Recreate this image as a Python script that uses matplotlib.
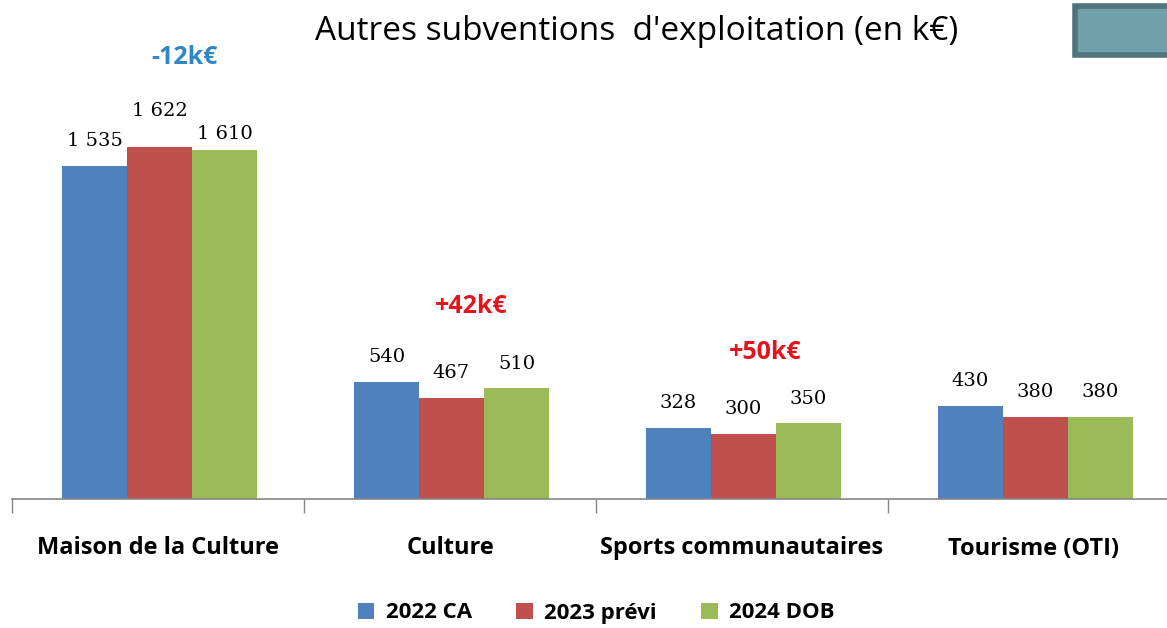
import numpy as np
import matplotlib.pyplot as plt
from matplotlib.patches import Rectangle, Patch

# data
categories = ["Maison de la Culture", "Culture", "Sports communautaires", "Tourisme (OTI)"]
series = ["2022 CA", "2023 prévi", "2024 DOB"]
ca_2022 = [1535, 540, 328, 430]
previ_2023 = [1622, 467, 300, 380]
dob_2024 = [1610, 510, 350, 380]
deltas = ["-12k€", "+42k€", "+50k€"]

# style
colors = ["#4F81BD", "#C0504D", "#9BBB59"]
delta_colors = ["#2F87C6", "#E3141B", "#E3141B"]
delta_pos = [(0.592, 2035), (1.572, 885), (2.579, 677)]
sans = ["Open Sans", "DejaVu Sans"]
serif = ["DejaVu Serif"]

fig = plt.figure(figsize=(11.67, 6.28), dpi=100)
ax = fig.add_axes([12 / 1167, 129 / 628, 1168 / 1167, 434 / 628])

w = 0.2226
x = np.arange(len(categories)) + 0.505
values = [ca_2022, previ_2023, dob_2024]
# label gap above bar (points), per series / category
nudge = [[14, 14, 14, 14],
         [22, 14, 14, 14],
         [8, 14, 14, 14]]
for j, vals in enumerate(values):
    xs = x + (j - 1) * w
    ax.bar(xs, vals, width=w, color=colors[j], edgecolor="none", zorder=2)
    for i, (xi, v) in enumerate(zip(xs, vals)):
        txt = f"{v:,}".replace(",", " ")
        ax.annotate(txt, (xi, v), xytext=(0, nudge[j][i]), textcoords="offset points",
                    ha="center", va="baseline", fontsize=14, family=serif, color="#000000")

for t, c, (dx, dy) in zip(deltas, delta_colors, delta_pos):
    ax.text(dx, dy, t, ha="center", va="center", fontsize=18, fontweight="bold",
            family=sans, color=c)

ax.set_xlim(0, 4)
ax.set_ylim(0, 2000)
ax.set_xticks(x - 0.005)
ax.set_xticklabels(categories, fontsize=17, fontweight="bold", family=sans)
ax.set_xticks(np.arange(5), minor=True)
ax.tick_params(axis="x", which="major", length=0, pad=27)
ax.tick_params(axis="x", which="minor", length=10, direction="out", color="#868686", width=1)
ax.set_yticks([])
for s in ["top", "right", "left"]:
    ax.spines[s].set_visible(False)
ax.spines["bottom"].set_color("#868686")
ax.spines["bottom"].set_linewidth(1.2)

fig.text(637 / 1167, 1 - 31 / 628, "Autres subventions  d'exploitation (en k€)",
         ha="center", va="center", fontsize=24, family=sans)

handles = [Patch(facecolor=c, edgecolor="none") for c in colors]
fig.legend(handles, series, loc="center", bbox_to_anchor=(596 / 1167, 1 - 613 / 628),
           ncol=3, frameon=False, handlelength=0.75, handleheight=0.75, handletextpad=0.5,
           columnspacing=2.0, prop={"family": sans, "weight": "bold", "size": 16})

# decorative box, top right corner
fig.patches.append(Rectangle((1075 / 1167, 1 - 55 / 628), 100 / 1167, 49 / 628,
                             transform=fig.transFigure, facecolor="#6FA0AC",
                             edgecolor="#4F7480", linewidth=4))

fig.savefig("out.png", dpi=100)
